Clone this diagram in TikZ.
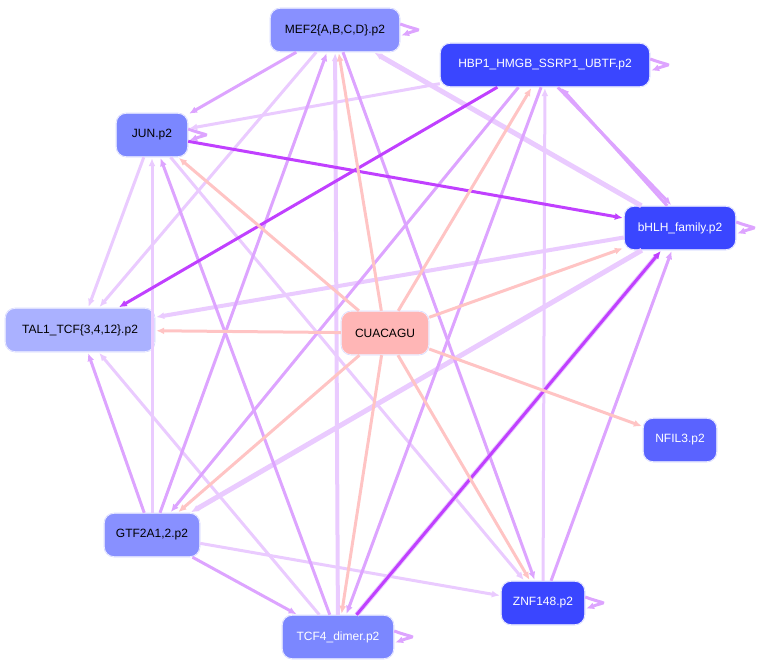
\documentclass[tikz,border=0pt]{standalone}
\usepackage{fontspec}
\setmainfont{Liberation Sans}
\usetikzlibrary{arrows.meta}
\definecolor{nA}{HTML}{3A46FF}
\definecolor{nB}{HTML}{5A63FF}
\definecolor{nC}{HTML}{7B87FF}
\definecolor{nD}{HTML}{8890FF}
\definecolor{nE}{HTML}{AAB1FF}
\definecolor{nP}{HTML}{FFB6B6}
\definecolor{eL}{HTML}{EACBFF}
\definecolor{eM}{HTML}{DDA4FF}
\definecolor{eS}{HTML}{C040FF}
\definecolor{eP}{HTML}{FFC4C4}
\newcommand{\selfloop}[1]{\draw[e,eM] ([yshift=6pt]#1.east) .. controls +(22,8) and +(22,-8) .. ([yshift=-6pt]#1.east);}
\begin{document}
\begin{tikzpicture}[x=1pt,y=-1pt,
 nd/.style={rounded corners=10pt,minimum height=44pt,font=\fontsize{12}{14}\selectfont,inner sep=4pt,draw=white,double=nA!20,double distance=0.6pt},
 e/.style={-{Latex[length=8pt,width=7pt]},line width=3pt,shorten >=1pt},
 L/.style={e,eL}, M/.style={e,eM}, S/.style={e,eS}, P/.style={e,eP}]
\useasboundingbox (0,0) rectangle (768,669);
\node[nd,fill=nD,minimum width=130pt] (mef) at (335,30) {MEF2\{A,B,C,D\}.p2};
\node[nd,fill=nA,minimum width=210pt,text=white] (hbp) at (545,65) {HBP1\_HMGB\_SSRP1\_UBTF.p2};
\node[nd,fill=nC,minimum width=72pt] (jun) at (152,135) {JUN.p2};
\node[nd,fill=nA,minimum width=112pt,text=white] (bhlh) at (680,228) {bHLH\_family.p2};
\node[nd,fill=nE,minimum width=150pt] (tal) at (80,330) {TAL1\_TCF\{3,4,12\}.p2};
\node[nd,fill=nP,minimum width=88pt] (cu) at (385,333) {CUACAGU};
\node[nd,fill=nB,minimum width=74pt,text=white] (nfil) at (680,440) {NFIL3.p2};
\node[nd,fill=nD,minimum width=96pt] (gtf) at (152,535) {GTF2A1,2.p2};
\node[nd,fill=nA,minimum width=84pt,text=white] (znf) at (543,603) {ZNF148.p2};
\node[nd,fill=nC,minimum width=112pt,text=white] (tcf) at (338,637) {TCF4\_dimer.p2};
% loops
\selfloop{mef}\selfloop{hbp}\selfloop{jun}\selfloop{bhlh}\selfloop{znf}\selfloop{tcf}
% light edges
\draw[L] (mef) -- (tal);
\draw[L] (hbp) -- (jun);
\draw[L] (jun) -- (tal);
\draw[L,line width=5pt] (bhlh) -- (mef);
\draw[L,line width=4pt] (bhlh) -- (tal);
\draw[L,line width=5pt] (bhlh) -- (gtf);
\draw[L,line width=5pt] (tcf) -- (bhlh);
\draw[L] (gtf) -- (jun);
\draw[L] (gtf) -- (znf);
\draw[L] (tcf) -- (tal);
\draw[L] (znf) -- (hbp);
\draw[L] (jun) -- (znf);
\draw[L,line width=4pt] (tcf) -- (mef);
% medium edges
\draw[M] (mef) -- (jun);
\draw[M] (hbp.220) -- (gtf);
\draw[M] (hbp.260) -- (tcf);
\draw[M] (hbp.-60) -- (bhlh.110);
\draw[M] (bhlh.120) -- (hbp.-55);
\draw[M] (znf) -- (bhlh);
\draw[M] (gtf) -- (tal);
\draw[M] (gtf) -- (mef);
\draw[M] (gtf) -- (tcf);
\draw[M] (tcf) -- (jun);
\draw[M] (mef) -- (znf);
% strong edges
\draw[S] (hbp.205) -- (tal);
\draw[S] (jun) -- (bhlh);
\draw[S] (tcf) -- (bhlh);
% pink edges
\foreach \t in {jun,tal,mef,hbp,bhlh,nfil,znf,tcf,gtf} \draw[P] (cu) -- (\t);
\end{tikzpicture}
\end{document}
